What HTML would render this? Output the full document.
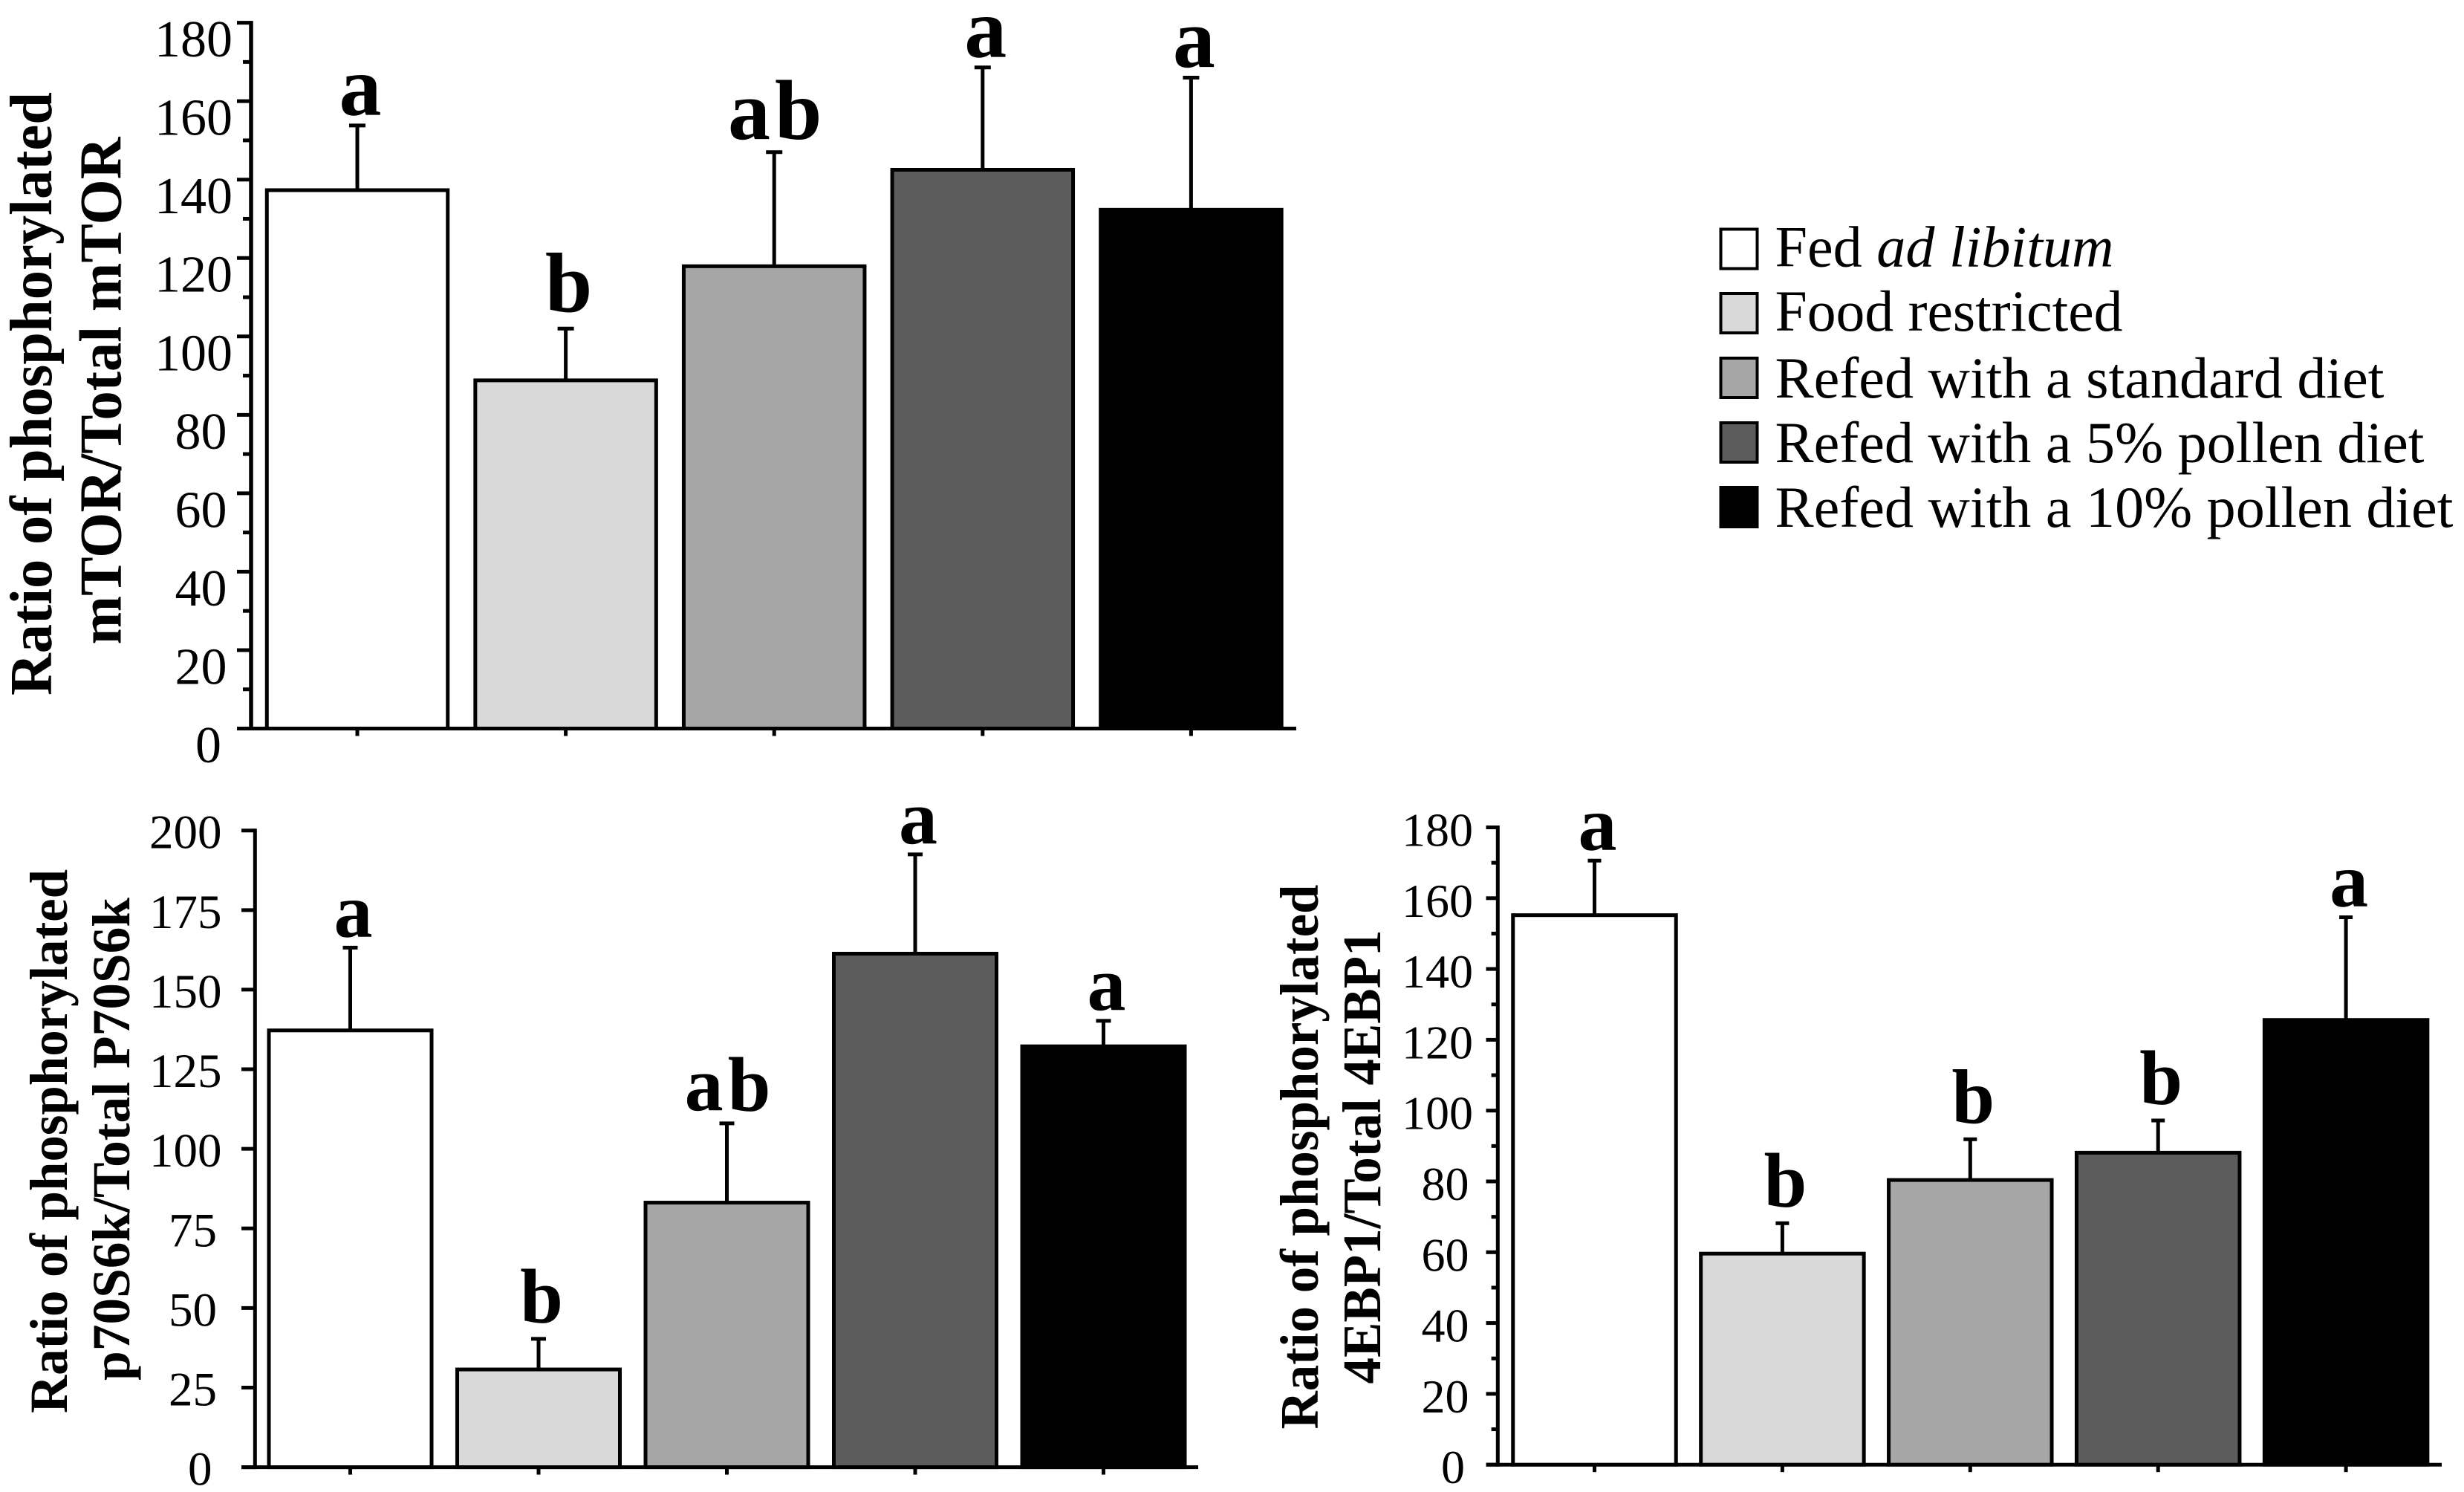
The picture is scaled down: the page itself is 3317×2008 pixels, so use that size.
<!DOCTYPE html>
<html lang="en">
<head>
<meta charset="utf-8">
<title>Phosphorylation ratios by diet</title>
<style>
  html, body { margin: 0; padding: 0; background: #fff; }
  svg { display: block; }
  text { font-family: "Liberation Serif", serif; fill: #000; }
  .title { font-weight: bold; text-anchor: middle; }
  .legend-text { font-size: 78px; }
</style>
</head>
<body>
<svg id="figure" xmlns="http://www.w3.org/2000/svg" width="3317" height="2008" viewBox="0 0 3317 2008">
  <rect x="0" y="0" width="3317" height="2008" fill="#ffffff"/>

  <g>
    <text class="title" font-size="81" transform="translate(69 530) rotate(-90)" textLength="812" lengthAdjust="spacingAndGlyphs">Ratio of phosphorylated</text>
    <text class="title" font-size="80" transform="translate(162.6 526) rotate(-90)" textLength="683" lengthAdjust="spacingAndGlyphs">mTOR/Total mTOR</text>
  </g>
  <g>
    <text class="title" font-size="72" transform="translate(90 1536) rotate(-90)" textLength="732" lengthAdjust="spacingAndGlyphs">Ratio of phosphorylated</text>
    <text class="title" font-size="72" transform="translate(174 1533) rotate(-90)" textLength="650" lengthAdjust="spacingAndGlyphs">p70S6k/Total P70S6k</text>
  </g>
  <g>
    <text class="title" font-size="73" transform="translate(1774 1557) rotate(-90)" textLength="733" lengthAdjust="spacingAndGlyphs">Ratio of phosphorylated</text>
    <text class="title" font-size="73" transform="translate(1858 1557) rotate(-90)" textLength="611" lengthAdjust="spacingAndGlyphs">4EBP1/Total 4EBP1</text>
  </g>

  <g>
    <g>
      <rect x="2316.5" y="308.5" width="49" height="53" fill="#ffffff" stroke="#000" stroke-width="4"/>
      <text class="legend-text" x="2389.5" y="358.3" textLength="456" lengthAdjust="spacingAndGlyphs">Fed <tspan font-style="italic">ad libitum</tspan></text>
    </g>
    <g>
      <rect x="2316.5" y="395" width="49" height="53" fill="#d9d9d9" stroke="#000" stroke-width="4"/>
      <text class="legend-text" x="2389.5" y="445" textLength="468" lengthAdjust="spacingAndGlyphs">Food restricted</text>
    </g>
    <g>
      <rect x="2316.5" y="482" width="49" height="53" fill="#a6a6a6" stroke="#000" stroke-width="4"/>
      <text class="legend-text" x="2389.5" y="535" textLength="820" lengthAdjust="spacingAndGlyphs">Refed with a standard diet</text>
    </g>
    <g>
      <rect x="2316.5" y="569" width="49" height="53" fill="#5c5c5c" stroke="#000" stroke-width="4"/>
      <text class="legend-text" x="2389.5" y="622" textLength="874" lengthAdjust="spacingAndGlyphs">Refed with a 5% pollen diet</text>
    </g>
    <g>
      <rect x="2316.5" y="656" width="49" height="53" fill="#000000" stroke="#000" stroke-width="4"/>
      <text class="legend-text" x="2389.5" y="709" textLength="913" lengthAdjust="spacingAndGlyphs">Refed with a 10% pollen diet</text>
    </g>
  </g>
</svg>

<script>
// Diet groups and their bar fills
const groups = ['fed', 'restricted', 'standard', 'pollen-5', 'pollen-10'];
const groupFills = ['#ffffff', '#d9d9d9', '#a6a6a6', '#5c5c5c', '#000000'];

// mTOR panel
const mtorMeans = [137.3, 88.8, 117.9, 142.5, 132.3];
const mtorErrorTops = [153.8, 102, 147, 168.6, 166];
const mtorLetters = ['a', 'b', 'ab', 'a', 'a'];
const mtorTickLabels = [0, 20, 40, 60, 80, 100, 120, 140, 160, 180];
const mtorMinorTicks = [10, 30, 50, 70, 90, 110, 130, 150, 170];

// p70S6k panel
const p70Means = [137.2, 30.7, 83.1, 161.3, 132.2];
const p70ErrorTops = [163.2, 40.3, 108, 192.5, 140.2];
const p70Letters = ['a', 'b', 'ab', 'a', 'a'];
const p70TickLabels = [0, 25, 50, 75, 100, 125, 150, 175, 200];
const p70MinorTicks = [];

// 4EBP1 panel
const ebpMeans = [155.2, 59.6, 80.4, 88.1, 125.6];
const ebpErrorTops = [170.6, 68.2, 91.9, 97.2, 154.6];
const ebpLetters = ['a', 'b', 'b', 'b', 'a'];
const ebpTickLabels = [0, 20, 40, 60, 80, 100, 120, 140, 160, 180];
const ebpMinorTicks = [10, 30, 50, 70, 90, 110, 130, 150, 170];

const svgNS = 'http://www.w3.org/2000/svg';
const figure = document.getElementById('figure');

function mk(tag, parent, attrs) {
  const el = document.createElementNS(svgNS, tag);
  for (const k in attrs) el.setAttribute(k, attrs[k]);
  parent.appendChild(el);
  return el;
}

function letterGap(letter) {
  if (letter === 'a') return 12;
  if (letter === 'b') return 20;
  return 15;
}

function drawPanel(p) {
  const g = mk('g', figure, {});
  
  

  const yMax = p.tickLabels[p.tickLabels.length - 1];
  const y = v => p.base - v * (p.base - p.top) / yMax;
  const x = i => p.x0 + i * p.step;

  // y axis line
  const yAxis = mk('line', g, { x1: p.axisX, x2: p.axisX, y1: y(yMax) - 2.5, y2: p.base + 2.5, stroke: '#000', 'stroke-width': p.axisW });
  
  

  // x axis line
  const xAxis = mk('line', g, { x1: p.majorLeft, x2: p.axisEnd, y1: p.base, y2: p.base, stroke: '#000', 'stroke-width': 5 });
  
  

  // major ticks and labels
  p.tickLabels.forEach(v => {
    const tick = mk('line', g, { x1: p.majorLeft, x2: p.axisX, y1: y(v), y2: y(v), stroke: '#000', 'stroke-width': 5 });
    
    

    const label = String(v);
    const t = mk('text', g, { x: p.labelRight - (3 - label.length) * p.labelShift, y: y(v) + p.labelDy, 'font-size': p.tickFont, 'text-anchor': 'end' });
    t.textContent = label;
    
    
  });

  // minor ticks
  p.minorTicks.forEach(v => {
    const tick = mk('line', g, { x1: p.minorLeft, x2: p.axisX, y1: y(v), y2: y(v), stroke: '#000', 'stroke-width': 5 });
    
    
  });

  // bars, error bars, significance letters, x ticks
  p.means.forEach((m, i) => {
    const xt = mk('line', g, { x1: x(i), x2: x(i), y1: p.base, y2: p.base + 10, stroke: '#000', 'stroke-width': 5 });
    
    

    const err = mk('line', g, { x1: x(i), x2: x(i), y1: y(m), y2: y(p.errorTops[i]), stroke: '#000', 'stroke-width': 5 });
    
    

    const cap = mk('line', g, { x1: x(i) - p.capHalf, x2: x(i) + p.capHalf, y1: y(p.errorTops[i]), y2: y(p.errorTops[i]), stroke: '#000', 'stroke-width': 5 });
    
    

    const bar = mk('rect', g, { x: x(i) - p.barW / 2, y: y(m), width: p.barW, height: p.base - y(m), fill: groupFills[i], stroke: '#000', 'stroke-width': 5 });
    
    

    const letter = mk('text', g, { x: x(i) + 4, y: y(p.errorTops[i]) - 2.5 - letterGap(p.letters[i]), 'font-size': p.letterFont, 'font-weight': 'bold', 'text-anchor': 'middle', 'letter-spacing': p.letters[i].length > 1 ? 6 : 0 });
    letter.textContent = p.letters[i];
    
    
  });
}

drawPanel({
  name: 'mtor', means: mtorMeans, errorTops: mtorErrorTops, letters: mtorLetters,
  tickLabels: mtorTickLabels, minorTicks: mtorMinorTicks,
  top: 30.6, base: 980.5, axisX: 338, axisW: 5.5, majorLeft: 319, minorLeft: 327, axisEnd: 1745,
  x0: 481, step: 280.6, barW: 243.5, capHalf: 11,
  labelRight: 313, labelShift: 7.5, labelDy: 45.5, tickFont: 70, letterFont: 114
});

drawPanel({
  name: 'p70s6k', means: p70Means, errorTops: p70ErrorTops, letters: p70Letters,
  tickLabels: p70TickLabels, minorTicks: p70MinorTicks,
  top: 1117.7, base: 1974.6, axisX: 343.3, axisW: 5, majorLeft: 325, minorLeft: 333, axisEnd: 1613,
  x0: 471.5, step: 253.5, barW: 219, capHalf: 10,
  labelRight: 298.5, labelShift: 6.5, labelDy: 24, tickFont: 65, letterFont: 104
});

drawPanel({
  name: '4ebp1', means: ebpMeans, errorTops: ebpErrorTops, letters: ebpLetters,
  tickLabels: ebpTickLabels, minorTicks: ebpMinorTicks,
  top: 1113.5, base: 1971.2, axisX: 2016.3, axisW: 5, majorLeft: 2000.5, minorLeft: 2007.6, axisEnd: 3287,
  x0: 2146.5, step: 252.9, barW: 219.5, capHalf: 9,
  labelRight: 1983, labelShift: 5.5, labelDy: 25, tickFont: 64, letterFont: 104
});
</script>
</body>
</html>
